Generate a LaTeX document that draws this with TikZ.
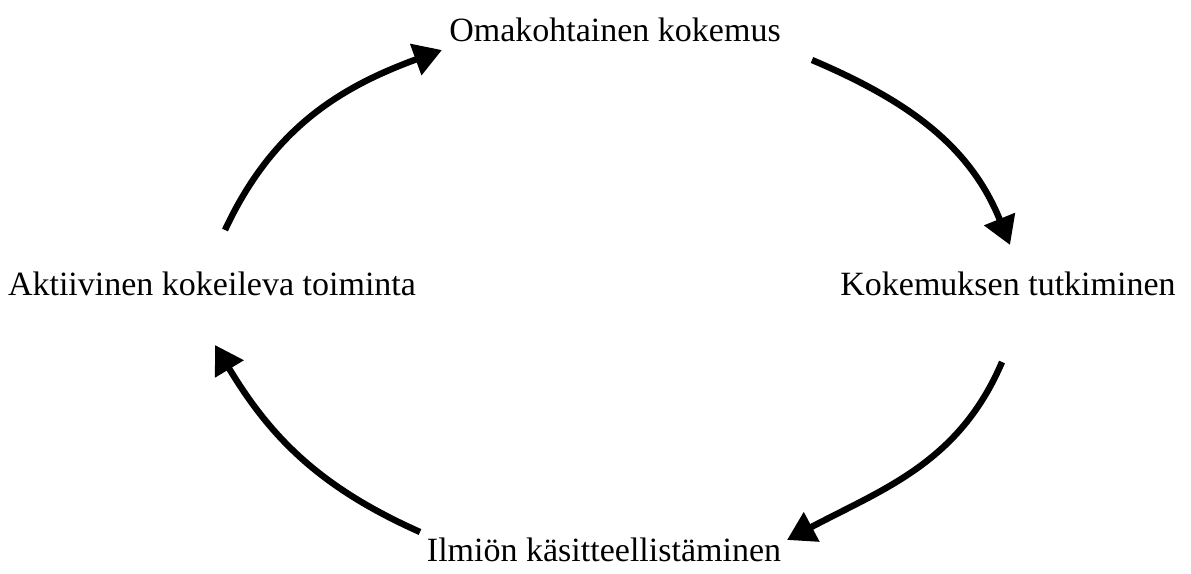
\documentclass[tikz,border=0pt]{standalone}
\usepackage{fontspec}
\setmainfont{Liberation Serif}
\usetikzlibrary{arrows.meta}

\begin{document}
\begin{tikzpicture}[
    x=0.5pt, y=0.5pt,
    font=\fontsize{17}{20}\selectfont,
    stage/.style={anchor=base, inner sep=3pt},
    cycle/.style={line width=3.2pt, -{Triangle[length=14pt, width=16pt]}}
  ]
  \useasboundingbox (0,0) rectangle (1191,574);

  \node[stage] (oma) at (615,532) {Omakohtainen kokemus};
  \node[stage] (tut) at (1008,278) {Kokemuksen tutkiminen};
  \node[stage] (ilm) at (604,12) {Ilmiön käsitteellistäminen};
  \node[stage] (akt) at (212,278) {Aktiivinen kokeileva toiminta};

  % free ends of the arrows
  \coordinate (akt-out) at (225,344);
  \coordinate (oma-in)  at (442,524);
  \coordinate (oma-out) at (812,514);
  \coordinate (tut-in)  at (1010,329);
  \coordinate (tut-out) at (1002,212);
  \coordinate (ilm-in)  at (787,34);
  \coordinate (ilm-out) at (420,42);
  \coordinate (akt-in)  at (215,229);

  \draw[cycle] (akt-out) to[out=65, in=200] (oma-in);
  \draw[cycle] (oma-out) to[out=-23, in=112] (tut-in);
  \draw[cycle] (tut-out) to[out=247, in=28] (ilm-in);
  \draw[cycle] (ilm-out) to[out=156, in=-59] (akt-in);
\end{tikzpicture}
\end{document}
